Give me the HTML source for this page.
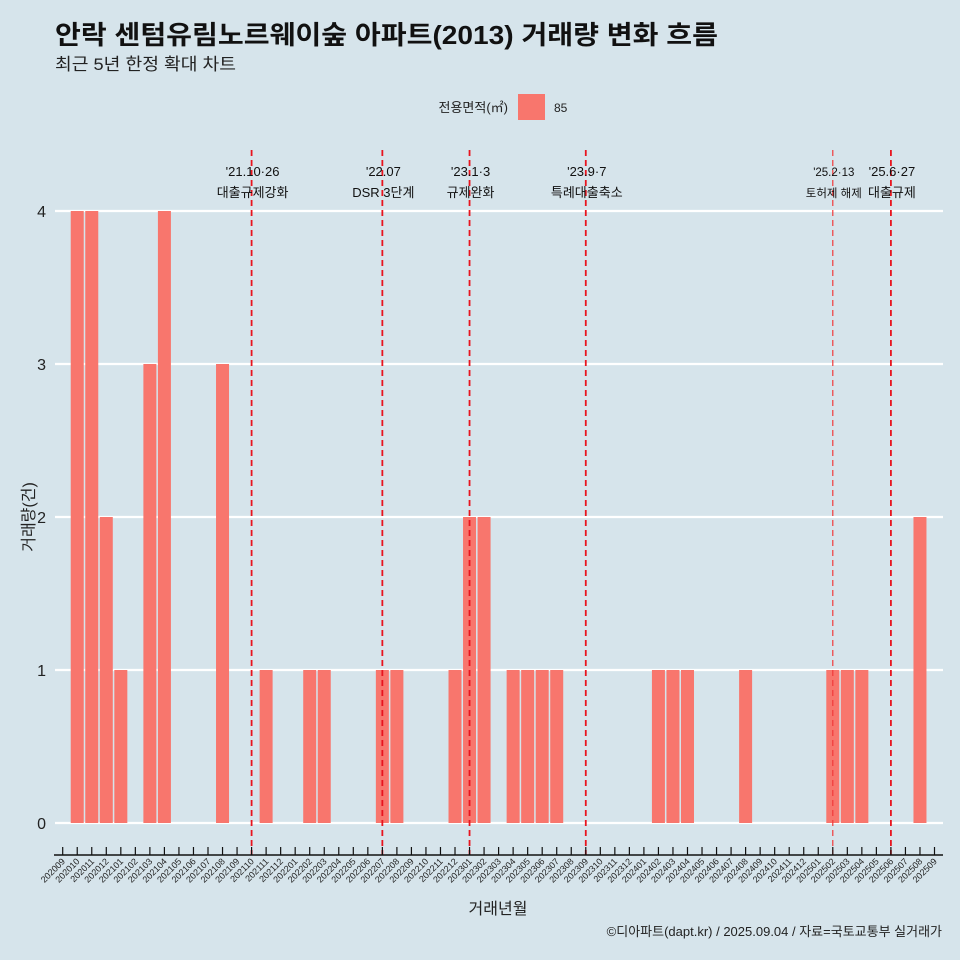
<!DOCTYPE html>
<html><head><meta charset="utf-8"><style>
body{margin:0;background:#d6e4eb;}
svg{display:block;font-family:"Liberation Sans","Noto Sans CJK KR",sans-serif;}
</style></head><body>
<svg id="chart" width="960" height="960" viewBox="0 0 960 960">
<rect width="960" height="960" fill="#d6e4eb"/>
<text x="55" y="44" font-size="26" font-weight="bold" fill="#111" textLength="663" lengthAdjust="spacingAndGlyphs">안락 센텀유림노르웨이숲 아파트(2013) 거래량 변화 흐름</text>
<text x="55" y="70" font-size="17" fill="#222" textLength="181" lengthAdjust="spacingAndGlyphs">최근 5년 한정 확대 차트</text>
<g>
<text x="508" y="112" font-size="13" text-anchor="end" fill="#222">전용면적(㎡)</text>
<rect x="518" y="94" width="27" height="26" fill="#f8766d"/>
<text x="554" y="112" font-size="12" fill="#222">85</text>
</g>
<g id="grid"></g><g id="bars"></g><g id="vlines"></g><g id="xaxis"></g>
<text x="498" y="914" font-size="16" text-anchor="middle" fill="#222">거래년월</text>
<text transform="translate(34,517) rotate(-90)" font-size="16" text-anchor="middle" fill="#222">거래량(건)</text>
<text x="942" y="936" font-size="13" text-anchor="end" fill="#222">©디아파트(dapt.kr) / 2025.09.04 / 자료=국토교통부 실거래가</text>
</svg>
<script>
const months = [];
for (let y = 2020, m = 9; y * 100 + m <= 202509; ) { months.push(String(y * 100 + m)); m++; if (m > 12) { m = 1; y++; } }
const barMonths = ["202010","202011","202012","202101","202103","202104","202108","202111","202202","202203","202207","202208","202212","202301","202302","202304","202305","202306","202307","202402","202403","202404","202408","202502","202503","202504","202508"];
const barValues = [4,4,2,1,3,4,3,1,1,1,1,1,1,2,2,1,1,1,1,1,1,1,1,1,1,1,2];
const yTicks = [0,1,2,3,4];
const eventMonths = ["202110","202207","202301","202309","202502","202506"];
const eventDates = ["'21.10·26","'22.07","'23.1·3","'23.9·7","'25.2·13","'25.6·27"];
const eventNames = ["대출규제강화","DSR 3단계","규제완화","특례대출축소","토허제 해제","대출규제"];

const NS = "http://www.w3.org/2000/svg";
const x = m => 62.7 + 14.53 * months.indexOf(m);
const y = v => 823 - 153 * v;
function mk(tag, attrs, parent) { const e = document.createElementNS(NS, tag); for (const k in attrs) e.setAttribute(k, attrs[k]); document.getElementById(parent).appendChild(e); return e; }

yTicks.forEach(t => {
  const l = mk("line", {x1: 55, x2: 943, y1: y(t), y2: y(t), stroke: "#fff", "stroke-width": 2.2}, "grid");
  
  
  const tx = mk("text", {x: 46, y: y(t) + 6, "font-size": 16, "text-anchor": "end", fill: "#222"}, "grid");
  tx.textContent = t;
  
  
});
barMonths.forEach((m, i) => {
  const r = mk("rect", {x: x(m) - 6.5, y: y(barValues[i]), width: 13, height: y(0) - y(barValues[i]), fill: "#f8766d"}, "bars");
  
  
});
eventMonths.forEach((m, i) => {
  const light = m === "202502";
  const l = mk("line", {x1: x(m), x2: x(m), y1: 150, y2: 855, stroke: light ? "#f03a3a" : "#e8141e", "stroke-width": light ? 1.2 : 1.8, "stroke-dasharray": "6,4"}, "vlines");
  
  
  const fs = light ? 11.5 : 13;
  const t1 = mk("text", {x: x(m) + 1, y: 176, "font-size": fs, "text-anchor": "middle", fill: "#111"}, "vlines");
  t1.textContent = eventDates[i];
  
  
  const t2 = mk("text", {x: x(m) + 1, y: 197, "font-size": fs, "text-anchor": "middle", fill: "#111"}, "vlines");
  t2.textContent = eventNames[i];
  
  
});
const ax = mk("line", {x1: 54, x2: 943, y1: 855, y2: 855, stroke: "#111", "stroke-width": 1.5}, "xaxis");


months.forEach(m => {
  const t = mk("line", {x1: x(m), x2: x(m), y1: 847, y2: 855, stroke: "#111", "stroke-width": 1.2}, "xaxis");
  
  
  const lb = mk("text", {transform: `translate(${x(m) + 3},862) rotate(-45)`, "font-size": 9, "text-anchor": "end", fill: "#222"}, "xaxis");
  lb.textContent = m;
  
  
});
</script>
</body></html>
